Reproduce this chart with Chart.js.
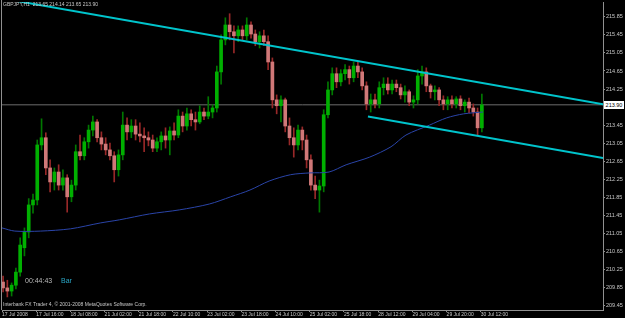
<!DOCTYPE html>
<html>
<head>
<meta charset="utf-8">
<script src="https://cdn.jsdelivr.net/npm/chart.js@4/dist/chart.umd.min.js"></script>
<style>
  html, body { margin: 0; padding: 0; background: #000; }
  #wrap { position: relative; width: 625px; height: 318px; overflow: hidden; background: #000; }
  #c { position: absolute; left: 0; top: 0; }
  .t { position: absolute; font-family: "Liberation Sans", Arial, sans-serif; white-space: pre; line-height: 1; }
</style>
</head>
<body>
<div id="wrap">
  <canvas id="c" width="625" height="318"></canvas>
  <div class="t" style="left:3px;top:2px;font-size:5px;color:#c8c8c8">GBPJPY,H1  213.65 214.14 213.65 213.90</div>
  <div class="t" style="left:25px;top:277px;font-size:7px;color:#b8b8b8">00:44:43</div>
  <div class="t" style="left:61px;top:277px;font-size:7px;color:#2aa8c8">Bar</div>
  <div class="t" style="left:3px;top:302px;font-size:5px;color:#c8c8c8">Interbank FX Trader 4, © 2001-2008 MetaQuotes Software Corp.</div>
  <div class="t" style="left:604px;top:101px;width:20px;height:8px;background:#fff;color:#000;font-size:5.5px;line-height:8px;text-align:center">213.90</div>
</div>
<script>
// GBPJPY H1, drawn as 2-hour candles (index i covers H1 bars 2i and 2i+1)
const opens = [
  209.97, 209.84, 209.77, 209.90, 210.19, 210.73, 211.08, 211.68, 211.79, 213.01,
  213.17, 212.50, 212.19, 212.41, 212.12, 212.28, 211.86, 212.12, 212.86, 212.77,
  213.08, 213.34, 213.52, 213.17, 213.03, 212.90, 212.77, 212.46, 212.79, 213.45,
  213.30, 213.43, 213.25, 213.21, 213.17, 213.12, 212.94, 213.08, 213.21, 213.12,
  213.32, 213.23, 213.65, 213.43, 213.70, 213.57, 213.52, 213.74, 213.65, 213.74,
  213.83, 214.63, 215.34, 215.67, 215.52, 215.43, 215.56, 215.43, 215.67, 215.47,
  215.30, 215.43, 215.30, 214.85, 214.01, 213.88, 214.01, 213.43, 213.17, 213.01,
  213.34, 213.12, 212.68, 212.12, 212.01, 212.10, 213.68, 214.23, 214.59, 214.41,
  214.59, 214.68, 214.50, 214.76, 214.63, 214.32, 213.92, 214.01, 213.92, 214.28,
  214.36, 214.23, 214.36, 214.28, 214.12, 214.19, 213.96, 214.01, 214.54, 214.63,
  214.32, 214.19, 214.23, 214.01, 213.92, 214.01, 213.92, 214.03, 213.88, 213.96,
  213.83, 213.74, 213.39
];
const highs = [
  210.10, 210.01, 209.95, 210.28, 210.95, 211.17, 211.82, 211.92, 213.12, 213.59,
  213.28, 212.68, 212.50, 212.57, 212.46, 212.35, 212.23, 213.01, 213.23, 213.17,
  213.45, 213.65, 213.57, 213.30, 213.17, 213.05, 212.86, 212.90, 213.74, 213.61,
  213.57, 213.57, 213.50, 213.39, 213.30, 213.23, 213.17, 213.30, 213.39, 213.41,
  213.50, 213.79, 213.74, 213.83, 213.79, 213.74, 213.88, 213.83, 214.08, 213.90,
  214.76, 215.45, 215.83, 215.92, 215.65, 215.65, 215.65, 215.83, 215.74, 215.56,
  215.52, 215.56, 215.43, 214.94, 214.12, 214.10, 214.05, 213.61, 213.39, 213.45,
  213.41, 213.23, 212.79, 212.32, 212.23, 213.79, 214.41, 214.72, 214.72, 214.68,
  214.79, 214.76, 214.85, 214.85, 214.72, 214.41, 214.14, 214.14, 214.41, 214.50,
  214.50, 214.45, 214.45, 214.36, 214.32, 214.23, 214.10, 214.68, 214.76, 214.72,
  214.36, 214.32, 214.28, 214.10, 214.08, 214.10, 214.08, 214.10, 214.01, 214.05,
  213.92, 213.83, 214.14
];
const lows = [
  209.75, 209.64, 209.66, 209.82, 210.10, 210.55, 210.95, 211.50, 211.68, 212.90,
  212.35, 211.97, 212.01, 212.01, 212.01, 211.52, 211.75, 212.01, 212.68, 212.68,
  212.94, 213.21, 213.08, 212.90, 212.79, 212.68, 212.19, 212.32, 212.68, 213.12,
  213.17, 213.12, 213.08, 212.86, 212.99, 212.86, 212.86, 212.90, 212.94, 212.79,
  213.12, 213.17, 213.30, 213.34, 213.43, 213.34, 213.48, 213.57, 213.59, 213.61,
  213.74, 214.36, 215.23, 215.34, 215.05, 215.30, 215.34, 215.34, 215.38, 215.21,
  215.16, 215.21, 214.68, 213.83, 213.70, 213.52, 213.30, 213.01, 212.74, 212.90,
  212.90, 212.50, 212.01, 211.82, 211.52, 211.97, 213.61, 214.12, 214.28, 214.32,
  214.45, 214.36, 214.41, 214.50, 214.23, 213.79, 213.74, 213.83, 213.83, 214.12,
  214.14, 214.14, 214.19, 214.03, 213.96, 213.88, 213.83, 213.92, 214.36, 214.19,
  214.05, 214.01, 213.88, 213.79, 213.79, 213.83, 213.83, 213.79, 213.74, 213.72,
  213.65, 213.23, 213.30
];
const closes = [
  209.84, 209.77, 209.90, 210.19, 210.79, 211.08, 211.68, 211.79, 213.01, 213.17,
  212.50, 212.19, 212.41, 212.12, 212.28, 211.86, 212.12, 212.86, 212.77, 213.08,
  213.34, 213.52, 213.17, 213.03, 212.90, 212.77, 212.46, 212.79, 213.45, 213.30,
  213.43, 213.25, 213.21, 213.17, 213.12, 212.94, 213.08, 213.21, 213.12, 213.32,
  213.23, 213.65, 213.43, 213.70, 213.57, 213.52, 213.74, 213.65, 213.74, 213.83,
  214.63, 215.34, 215.67, 215.52, 215.43, 215.56, 215.43, 215.67, 215.47, 215.30,
  215.43, 215.30, 214.85, 214.01, 213.88, 214.01, 213.43, 213.17, 213.01, 213.34,
  213.12, 212.68, 212.12, 212.01, 212.10, 213.68, 214.23, 214.59, 214.41, 214.59,
  214.68, 214.50, 214.76, 214.63, 214.32, 213.92, 214.01, 213.92, 214.28, 214.36,
  214.23, 214.36, 214.28, 214.12, 214.19, 213.96, 214.01, 214.54, 214.63, 214.32,
  214.19, 214.23, 214.01, 213.92, 214.01, 213.92, 214.03, 213.88, 213.96, 213.83,
  213.74, 213.39, 213.90
];

// moving average (H1 bar index -> price)
const maBars   = [0, 6, 18, 32, 46, 55, 69, 83, 97, 107, 116, 125, 135, 144, 153, 161, 172, 182, 189, 200, 208, 216, 225];
const maValues = [211.17, 211.10, 211.10, 211.15, 211.28, 211.35, 211.48, 211.57, 211.70, 211.86, 212.01, 212.21,
                  212.35, 212.39, 212.41, 212.57, 212.74, 212.97, 213.23, 213.45, 213.61, 213.70, 213.74];

// channel lines and bid line
const upperBars = [0, 281.2];
const upperVals = [216.26, 213.91];
const lowerBars = [171.2, 281.2];
const lowerVals = [213.64, 212.72];
const bidPrice = 213.90;

const xTickBars = [0, 16, 32, 48, 64, 80, 96, 112, 128, 144, 160, 176, 192, 208, 224];
const xTickLabels = ['17 Jul 2008', '17 Jul 16:00', '18 Jul 08:00', '21 Jul 02:00', '21 Jul 18:00',
  '22 Jul 10:00', '23 Jul 02:00', '23 Jul 18:00', '24 Jul 10:00', '25 Jul 02:00', '25 Jul 18:00',
  '28 Jul 12:00', '29 Jul 04:00', '29 Jul 20:00', '30 Jul 12:00'];
const yTicks = [209.45, 209.85, 210.25, 210.65, 211.05, 211.45, 211.85, 212.25, 212.65,
  213.05, 213.45, 213.85, 214.25, 214.65, 215.05, 215.45, 215.85];

const UP_BODY = '#00b000', UP_WICK = '#007800';
const DN_BODY = '#d07878', DN_WICK = '#982828';

const isUp = closes.map((c, i) => c >= opens[i]);
const barX = i => i * 2 + 0.5;

const wicks = highs.map((h, i) => ({ x: barX(i), y: [lows[i], h] }));
const bodies = opens.map((o, i) => ({ x: barX(i), y: [Math.min(o, closes[i]), Math.max(o, closes[i])] }));

const frame = {
  id: 'frame',
  afterDraw(chart) {
    const { ctx, chartArea: a } = chart;
    ctx.save();
    ctx.strokeStyle = '#909090';
    ctx.lineWidth = 1;
    ctx.beginPath();
    ctx.moveTo(a.left - 0.5, 0);
    ctx.lineTo(a.left - 0.5, a.bottom);
    ctx.stroke();
    ctx.restore();
  }
};

new Chart(document.getElementById('c'), {
  data: {
    datasets: [
      {
        type: 'line', order: 0,
        data: upperBars.map((x, i) => ({ x, y: upperVals[i] })),
        borderColor: '#00c4cc', borderWidth: 2, pointRadius: 0
      },
      {
        type: 'line', order: 0,
        data: lowerBars.map((x, i) => ({ x, y: lowerVals[i] })),
        borderColor: '#00c4cc', borderWidth: 2, pointRadius: 0
      },
      {
        type: 'line', order: 1,
        data: maBars.map((x, i) => ({ x, y: maValues[i] })),
        borderColor: '#2a44a8', borderWidth: 1, pointRadius: 0, tension: 0.3
      },
      {
        type: 'bar', order: 2, grouped: false,
        data: bodies,
        backgroundColor: isUp.map(u => u ? UP_BODY : DN_BODY),
        barThickness: 3, minBarLength: 1
      },
      {
        type: 'bar', order: 3, grouped: false,
        data: wicks,
        backgroundColor: isUp.map(u => u ? UP_WICK : DN_WICK),
        barThickness: 1
      },
      {
        type: 'line', order: 4,
        data: [{ x: 0, y: bidPrice }, { x: 281.2, y: bidPrice }],
        borderColor: '#6c6c6c', borderWidth: 1, pointRadius: 0
      }
    ]
  },
  options: {
    responsive: false,
    animation: false,
    layout: { padding: { left: 2, top: 2, right: 0, bottom: 0 } },
    plugins: { legend: { display: false }, tooltip: { enabled: false } },
    scales: {
      x: {
        type: 'linear', min: 0, max: 281.17, offset: false,
        afterBuildTicks: s => { s.ticks = xTickBars.map(v => ({ value: v })); },
        afterFit: s => { s.height = 8; s.paddingLeft = 0; s.paddingRight = 0; },
        grid: { offset: false, drawOnChartArea: false, color: '#909090', tickLength: 2 },
        border: { display: true, color: '#909090' },
        ticks: {
          autoSkip: false, maxRotation: 0, align: 'start', padding: 0,
          color: '#c8c8c8', font: { family: 'Liberation Sans', size: 5 },
          callback: (v, i) => xTickLabels[i]
        }
      },
      y: {
        position: 'right', min: 209.35, max: 216.18,
        afterBuildTicks: s => { s.ticks = yTicks.map(v => ({ value: v })); },
        afterFit: s => { s.width = 22; s.paddingTop = 0; s.paddingBottom = 0; },
        grid: { drawOnChartArea: false, color: '#909090', tickLength: 2 },
        border: { display: true, color: '#909090' },
        ticks: {
          padding: 1, color: '#c8c8c8', font: { family: 'Liberation Sans', size: 5.5 },
          callback: v => v.toFixed(2)
        }
      }
    }
  },
  plugins: [frame]
});
</script>
</body>
</html>
